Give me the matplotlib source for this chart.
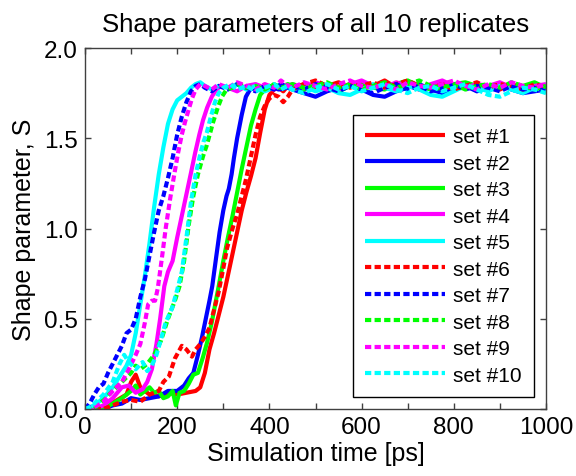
import numpy as np
import matplotlib
matplotlib.use("Agg")
import matplotlib.pyplot as plt
from matplotlib.ticker import MultipleLocator, FormatStrFormatter

plt.rcParams['font.family'] = ['Liberation Sans', 'DejaVu Sans']

# temps communs pour le plateau (ps)
plateau_t = [450, 475, 500, 525, 550, 575, 600, 625, 650, 675, 700, 725,
             750, 775, 800, 825, 850, 875, 900, 925, 950, 975, 1000]

# set #1 (rouge, plein)
t1 = [0, 30, 50, 70, 90, 100, 110, 120, 140, 160, 180, 200, 220, 240, 250, 260, 270,
      280, 290, 300, 310, 320, 330, 340, 350, 360, 370, 380, 390, 400, 410, 420, 430, 440]
s1 = [0, 0, 0.02, 0.05, 0.08, 0.15, 0.19, 0.12, 0.08, 0.07, 0.09, 0.08, 0.09, 0.10, 0.12,
      0.20, 0.33, 0.42, 0.52, 0.62, 0.74, 0.86, 0.98, 1.10, 1.20, 1.29, 1.39, 1.53, 1.66,
      1.74, 1.77, 1.78, 1.76, 1.79]
p1 = [1.78, 1.80, 1.77, 1.79, 1.81, 1.78, 1.80, 1.79, 1.82, 1.78, 1.80, 1.77, 1.79, 1.81,
      1.78, 1.80, 1.78, 1.79, 1.77, 1.80, 1.78, 1.79, 1.78]

# set #2 (bleu, plein)
t2 = [0, 40, 60, 80, 100, 120, 140, 160, 180, 200, 215, 225, 235, 245, 254, 262, 270, 276,
      285, 292, 300, 307, 312, 318, 323, 330, 340, 349, 358, 370, 385, 400, 420, 440]
s2 = [0, 0, 0.02, 0.03, 0.06, 0.05, 0.06, 0.07, 0.10, 0.10, 0.13, 0.17, 0.20, 0.30, 0.40,
      0.50, 0.60, 0.68, 0.85, 0.98, 1.10, 1.18, 1.22, 1.30, 1.39, 1.50, 1.63, 1.73, 1.77,
      1.78, 1.76, 1.79, 1.77, 1.78]
p2 = [1.77, 1.75, 1.73, 1.76, 1.78, 1.79, 1.77, 1.74, 1.73, 1.76, 1.78, 1.80, 1.77, 1.75,
      1.77, 1.79, 1.76, 1.78, 1.80, 1.77, 1.75, 1.76, 1.77]

# set #3 (vert, plein)
t3 = [0, 40, 60, 80, 100, 110, 120, 140, 150, 160, 170, 180, 190, 197, 205, 215, 225, 235,
      245, 255, 265, 275, 290, 300, 310, 320, 330, 340, 350, 360, 370, 380, 390, 400, 420, 440]
s3 = [0, 0, 0.03, 0.06, 0.10, 0.13, 0.08, 0.12, 0.09, 0.10, 0.06, 0.07, 0.10, 0.02, 0.09,
      0.10, 0.14, 0.19, 0.20, 0.28, 0.37, 0.48, 0.68, 0.82, 0.95, 1.07, 1.20, 1.33, 1.45,
      1.57, 1.66, 1.74, 1.77, 1.79, 1.78, 1.80]
p3 = [1.79, 1.77, 1.80, 1.78, 1.76, 1.79, 1.81, 1.78, 1.77, 1.80, 1.82, 1.79, 1.77, 1.78,
      1.80, 1.81, 1.79, 1.77, 1.80, 1.78, 1.79, 1.81, 1.78]

# set #4 (magenta, plein)
t4 = [0, 20, 40, 60, 80, 95, 110, 125, 135, 145, 155, 163, 172, 180, 190, 200, 210, 220,
      230, 239, 248, 256, 265, 275, 285, 295, 310, 330, 350, 370, 390, 410, 425, 440]
s4 = [0, 0, 0.02, 0.06, 0.12, 0.13, 0.09, 0.11, 0.15, 0.22, 0.36, 0.50, 0.68, 0.76, 0.82,
      0.95, 1.07, 1.19, 1.31, 1.42, 1.52, 1.60, 1.67, 1.73, 1.77, 1.79, 1.78, 1.76, 1.79,
      1.80, 1.78, 1.77, 1.80, 1.79]
p4 = [1.80, 1.78, 1.81, 1.79, 1.77, 1.80, 1.82, 1.79, 1.78, 1.81, 1.79, 1.77, 1.80, 1.82,
      1.79, 1.78, 1.80, 1.79, 1.81, 1.78, 1.77, 1.79, 1.80]

# set #5 (cyan, plein)
t5 = [0, 10, 20, 30, 40, 50, 60, 70, 80, 90, 100, 110, 120, 130, 140, 150, 160, 170, 180,
      190, 200, 210, 220, 230, 240, 250, 260, 275, 290, 310, 330, 350, 370, 390, 410, 425, 440]
s5 = [0, 0.01, 0.02, 0.04, 0.06, 0.09, 0.12, 0.16, 0.20, 0.24, 0.30, 0.42, 0.58, 0.74,
      0.92, 1.12, 1.30, 1.45, 1.58, 1.66, 1.71, 1.73, 1.75, 1.78, 1.80, 1.81, 1.79, 1.77,
      1.79, 1.78, 1.80, 1.77, 1.79, 1.76, 1.78, 1.80, 1.78]
p5 = [1.77, 1.79, 1.76, 1.78, 1.75, 1.74, 1.77, 1.80, 1.78, 1.76, 1.79, 1.77, 1.74, 1.73,
      1.76, 1.79, 1.78, 1.76, 1.79, 1.77, 1.75, 1.78, 1.76]

# set #6 (rouge, pointillé)
t6 = [0, 40, 60, 80, 100, 120, 140, 160, 170, 182, 195, 210, 220, 232, 240, 250, 260, 270,
      280, 290, 300, 308, 320, 330, 340, 349, 360, 370, 380, 390, 400, 410, 420, 430, 440]
s6 = [0, 0, 0.02, 0.04, 0.05, 0.04, 0.08, 0.10, 0.15, 0.18, 0.28, 0.35, 0.33, 0.29, 0.33,
      0.36, 0.40, 0.45, 0.55, 0.65, 0.78, 0.89, 1.00, 1.08, 1.18, 1.27, 1.40, 1.52, 1.62,
      1.68, 1.72, 1.74, 1.73, 1.70, 1.73]
p6 = [1.77, 1.80, 1.82, 1.79, 1.78, 1.80, 1.79, 1.81, 1.78, 1.80, 1.82, 1.79, 1.78, 1.80,
      1.77, 1.79, 1.81, 1.78, 1.80, 1.79, 1.77, 1.80, 1.78]

# set #7 (bleu, pointillé)
t7 = [0, 10, 20, 30, 40, 50, 60, 70, 80, 90, 100, 110, 120, 130, 140, 150, 160, 170, 180,
      190, 200, 210, 220, 230, 240, 250, 260, 275, 290, 310, 330, 350, 370, 390, 410, 425, 440]
s7 = [0, 0.03, 0.08, 0.12, 0.14, 0.20, 0.25, 0.30, 0.35, 0.42, 0.44, 0.50, 0.62, 0.72,
      0.85, 0.98, 1.10, 1.18, 1.28, 1.39, 1.52, 1.62, 1.70, 1.76, 1.79, 1.80, 1.78, 1.76,
      1.79, 1.77, 1.80, 1.78, 1.76, 1.79, 1.77, 1.80, 1.78]
p7 = [1.79, 1.77, 1.80, 1.78, 1.76, 1.79, 1.77, 1.75, 1.78, 1.80, 1.77, 1.79, 1.76, 1.78,
      1.80, 1.77, 1.79, 1.78, 1.76, 1.79, 1.77, 1.78, 1.76]

# set #8 (vert, pointillé)
t8 = [0, 20, 40, 60, 80, 100, 110, 120, 135, 150, 165, 180, 195, 205, 215, 225, 235, 245,
      256, 264, 278, 288, 297, 307, 320, 335, 350, 370, 390, 410, 425, 440]
s8 = [0, 0, 0.05, 0.10, 0.15, 0.20, 0.24, 0.22, 0.25, 0.30, 0.38, 0.50, 0.60, 0.68, 0.82,
      1.02, 1.18, 1.30, 1.40, 1.46, 1.59, 1.67, 1.73, 1.77, 1.78, 1.80, 1.78, 1.79, 1.77,
      1.80, 1.78, 1.79]
p8 = [1.80, 1.78, 1.79, 1.81, 1.78, 1.80, 1.77, 1.79, 1.81, 1.78, 1.80, 1.82, 1.79, 1.78,
      1.80, 1.77, 1.79, 1.80, 1.78, 1.81, 1.79, 1.77, 1.79]

# set #9 (magenta, pointillé)
t9 = [0, 20, 40, 60, 80, 95, 110, 120, 130, 137, 145, 152, 158, 167, 175, 185, 195, 202,
      210, 217, 225, 232, 240, 250, 260, 275, 290, 310, 330, 350, 370, 390, 410, 425, 440]
s9 = [0, 0.01, 0.04, 0.10, 0.15, 0.22, 0.30, 0.36, 0.48, 0.58, 0.60, 0.60, 0.67, 0.84,
      1.00, 1.17, 1.32, 1.42, 1.52, 1.59, 1.66, 1.72, 1.77, 1.80, 1.79, 1.77, 1.80, 1.78,
      1.81, 1.79, 1.77, 1.80, 1.78, 1.82, 1.79]
p9 = [1.78, 1.81, 1.79, 1.77, 1.80, 1.82, 1.79, 1.78, 1.80, 1.77, 1.81, 1.79, 1.78, 1.80,
      1.82, 1.79, 1.77, 1.80, 1.78, 1.81, 1.79, 1.78, 1.80]

# set #10 (cyan, pointillé)
t10 = [0, 10, 20, 40, 60, 75, 85, 95, 110, 125, 135, 145, 155, 163, 175, 189, 200, 210,
       220, 230, 240, 249, 257, 264, 273, 282, 290, 300, 315, 330, 350, 370, 390, 410, 425, 440]
s10 = [0, 0.01, 0.03, 0.08, 0.15, 0.25, 0.30, 0.26, 0.22, 0.26, 0.21, 0.24, 0.30, 0.37,
       0.48, 0.56, 0.66, 0.76, 0.95, 1.15, 1.30, 1.40, 1.48, 1.53, 1.62, 1.70, 1.75, 1.78,
       1.80, 1.77, 1.79, 1.76, 1.78, 1.80, 1.77, 1.79]
p10 = [1.77, 1.75, 1.78, 1.80, 1.77, 1.79, 1.76, 1.78, 1.80, 1.77, 1.75, 1.78, 1.79, 1.76,
       1.78, 1.80, 1.77, 1.74, 1.73, 1.76, 1.78, 1.77, 1.75]

temps = [t1, t2, t3, t4, t5, t6, t7, t8, t9, t10]
formes = [s1, s2, s3, s4, s5, s6, s7, s8, s9, s10]
plateaux = [p1, p2, p3, p4, p5, p6, p7, p8, p9, p10]
labels = ['set #%d' % i for i in range(1, 11)]
couleurs = ['#ff0000', '#0000ff', '#00ff00', '#ff00ff', '#00ffff'] * 2

fig = plt.figure(figsize=(5.76, 4.77), dpi=100)
ax = fig.add_axes([85 / 576, 67 / 477, 461 / 576, 361 / 477])

for i in range(10):
    x = list(temps[i]) + plateau_t
    y = list(formes[i]) + plateaux[i]
    if i < 5:
        ax.plot(x, y, color=couleurs[i], lw=3, solid_capstyle='butt', label=labels[i])
    else:
        ax.plot(x, y, color=couleurs[i], lw=3, dashes=(1.5, 0.8),
                dash_capstyle='butt', label=labels[i])

ax.set_xlim(0, 1000)
ax.set_ylim(0, 2.0)
ax.xaxis.set_major_locator(MultipleLocator(200))
ax.xaxis.set_minor_locator(MultipleLocator(100))
ax.yaxis.set_major_locator(MultipleLocator(0.5))
ax.yaxis.set_major_formatter(FormatStrFormatter('%.1f'))
ax.tick_params(which='both', direction='in', top=True, right=True, length=4,
               width=1, color='#404040', labelsize=17.5, pad=5)
for sp in ax.spines.values():
    sp.set_color('#404040')
    sp.set_linewidth(1)

ax.set_xlabel('Simulation time [ps]', fontsize=18, labelpad=2)
ax.set_ylabel('Shape parameter, S', fontsize=18, labelpad=6)
ax.set_title('Shape parameters of all 10 replicates', fontsize=18.5, pad=12)

leg = ax.legend(loc='lower right', bbox_to_anchor=(0.974, 0.033), fontsize=15,
                handlelength=3.8, handletextpad=0.4, labelspacing=0.36,
                borderpad=0.6, fancybox=False, framealpha=1, borderaxespad=0)
leg.get_frame().set_edgecolor('black')
leg.get_frame().set_linewidth(1)

fig.savefig('out.png', dpi=100)
